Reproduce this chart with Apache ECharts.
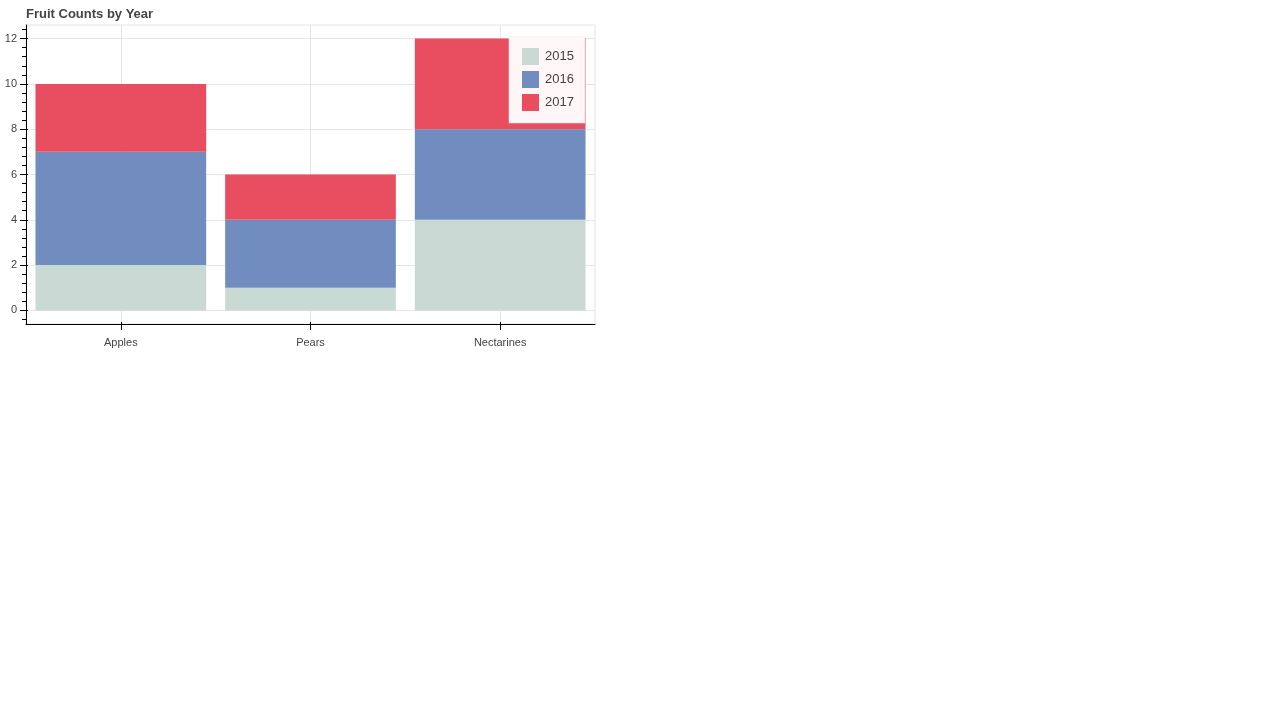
<!DOCTYPE html>
<html>
<head>
<meta charset="utf-8">
<script src="https://cdn.jsdelivr.net/npm/echarts@6/dist/echarts.min.js"></script>
<style>
html,body{margin:0;padding:0;background:#fff;}
#chart{width:1280px;height:720px;}
</style>
</head>
<body>
<div id="chart"></div>
<script>
var fruits = ['Apples', 'Pears', 'Nectarines'];
var years = ['2015', '2016', '2017'];
var v2015 = [2, 1, 4];
var v2016 = [5, 3, 4];
var v2017 = [3, 2, 4];
var colors = ['#c9d9d3', '#718dbf', '#e84d60'];
var yMajorTicks = [0, 2, 4, 6, 8, 10, 12];
var yMinorTicks = [-0.4, 0.4, 0.8, 1.2, 1.6, 2.4, 2.8, 3.2, 3.6, 4.4, 4.8, 5.2, 5.6, 6.4, 6.8, 7.2, 7.6, 8.4, 8.8, 9.2, 9.6, 10.4, 10.8, 11.2, 11.6, 12.4];
var xGridPositions = [0, 1, 2];
var yMin = -0.6, yMax = 12.6;

var FONT = '"Liberation Sans", Helvetica, Arial, sans-serif';
var seriesData = [v2015, v2016, v2017];

var chart = echarts.init(document.getElementById('chart'));
var hidden = {show: false};
chart.setOption({
  animation: false,
  textStyle: {fontFamily: FONT},
  title: {
    text: 'Fruit Counts by Year',
    left: 21, top: 3,
    textStyle: {fontSize: 13, fontWeight: 'bold', color: '#444', fontFamily: FONT}
  },
  legend: {
    orient: 'vertical',
    left: 509, top: 37,
    padding: [11, 11, 12, 13],
    icon: 'rect',
    itemWidth: 17, itemHeight: 17, itemGap: 6,
    backgroundColor: 'rgba(255,255,255,0.95)',
    borderColor: 'rgba(229,229,229,0.6)', borderWidth: 1,
    textStyle: {fontSize: 13, color: '#444', fontFamily: FONT, padding: [1, 0, 0, 1]},
    data: years,
    z: 10
  },
  grid: {
    left: 26, top: 25, width: 569, height: 299,
    show: true, borderColor: '#e5e5e5', borderWidth: 1,
    containLabel: false
  },
  xAxis: [
    {
      type: 'category', data: fruits, gridIndex: 0, position: 'bottom',
      axisLine: {show: true, onZero: false, lineStyle: {color: '#000', width: 1}},
      axisTick: {show: true, alignWithLabel: true, length: 6, lineStyle: {color: '#000'}},
      axisLabel: {color: '#444', fontSize: 11, margin: 13, fontFamily: FONT},
      splitLine: hidden
    },
    {
      type: 'category', data: fruits, gridIndex: 0, position: 'bottom',
      axisLine: {show: false, onZero: false},
      axisTick: {show: true, alignWithLabel: true, inside: true, length: 2, lineStyle: {color: '#000'}},
      axisLabel: hidden, splitLine: hidden
    },
    {
      type: 'value', min: -0.5, max: 2.5, gridIndex: 0, position: 'bottom',
      axisLine: {show: false, onZero: false},
      axisTick: {show: true, length: 0, customValues: xGridPositions, lineStyle: {color: 'rgba(0,0,0,0)'}},
      axisLabel: {show: false, customValues: xGridPositions},
      splitLine: {show: true, lineStyle: {color: '#e5e5e5', width: 1}}
    }
  ],
  yAxis: [
    {
      type: 'value', min: yMin, max: yMax,
      axisLine: {show: true, onZero: false, lineStyle: {color: '#000', width: 1}},
      axisTick: {show: true, length: 6, customValues: yMajorTicks, lineStyle: {color: '#000'}},
      axisLabel: {show: true, customValues: yMajorTicks, color: '#444', fontSize: 11, margin: 9, padding: [2, 0, 0, 0], fontFamily: FONT},
      splitLine: {show: true, lineStyle: {color: '#e5e5e5', width: 1}}
    },
    {
      type: 'value', min: yMin, max: yMax, position: 'left',
      axisLine: {show: false, onZero: false},
      axisTick: {show: true, inside: true, length: 2, customValues: yMajorTicks, lineStyle: {color: '#000'}},
      axisLabel: hidden, splitLine: hidden
    },
    {
      type: 'value', min: yMin, max: yMax, position: 'left',
      axisLine: {show: false, onZero: false},
      axisTick: {show: true, length: 4, customValues: yMinorTicks, lineStyle: {color: '#000'}},
      axisLabel: hidden, splitLine: hidden
    }
  ],
  series: years.map(function (y, i) {
    return {
      name: y, type: 'bar', stack: 'total',
      xAxisIndex: 0, yAxisIndex: 0,
      barWidth: '90%',
      itemStyle: {color: colors[i]},
      data: seriesData[i]
    };
  })
});
</script>
</body>
</html>
